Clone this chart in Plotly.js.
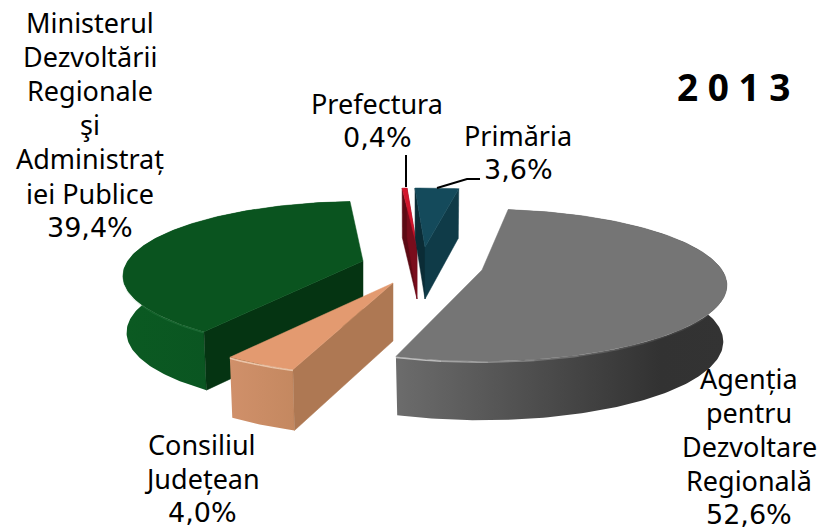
<!DOCTYPE html>
<html><head><meta charset="utf-8">
<script src="https://cdn.plot.ly/plotly-3.0.0.min.js"></script>
<style>html,body{margin:0;padding:0;background:#fff}#c{width:820px;height:531px}</style>
</head><body><div id="c"></div>
<script>
// ---- data ----
const categories = ["Agenția pentru Dezvoltare Regională","Consiliul Județean","Ministerul Dezvoltării Regionale și Administrației Publice","Prefectura","Primăria"];
const values = [52.6,4.0,39.4,0.4,3.6];
const labelLines = [
  ["Agenția","pentru","Dezvoltare","Regională"],
  ["Consiliul","Județean"],
  ["Ministerul","Dezvoltării","Regionale","şi","Administraț","iei Publice"],
  ["Prefectura"],
  ["Primăria"]
];
const chartTitle = "2 0 1 3";

// ---- projection and look of the 3-D pie ----
const START=10, RX=240, RY=73, K=0.2, KD=0.05, BOTTOM=0.985;
const apexX=[482,393,363,417,425], apexY=[270,283,261,247,247];
const scale=[1,1.02,0.98,0.97,0.97], depth=[56,58,56,52,52], turn=[-2.5,0,0.6,0,0];
const styles=[
 {top:"#757575",wall:[[0,"#6c6c6c"],[0.55,"#444444"],[0.8,"#323232"],[1,"#333333"]],cutA:null,cutB:null,rim:"255,255,255"},
 {top:"#e39a70",wall:[[0,"#d0906a"],[1,"#c48860"]],cutA:"#ae7853",cutB:null,rim:"255,235,215"},
 {top:"#0a541f",wall:[[0,"#0b5a22"],[0.5,"#0a5421"],[1,"#084a1a"]],cutA:"#053412",cutB:null,rim:"70,150,95"},
 {top:"#d2152c",wall:null,cutA:"#5c0a14",cutB:"#7a0d1c",rim:null},
 {top:"#144a5b",wall:null,cutA:"#0b2c36",cutB:"#0f3b48",rim:null}
];
const drawOrder=[2,3,4,0,1];
const labelPos={0:[749,378],1:[202,444],2:[90,22],3:[377,103],4:[518,135]};
const LINE=34.2;
const leaders=[{x:[406,406],y:[155,187]},{x:[437,467,480],y:[188,179,179]}];

function pt(i,deg,low){
  const t=deg*Math.PI/180, c=Math.cos(t), s=scale[i], f=1/(1+K*c);
  let x=RX*Math.sin(t)*f*s, y=-RY*c*f*s;
  if(low){x*=BOTTOM; y+=depth[i]/(1+KD*c);}
  return [apexX[i]+x, apexY[i]+y];
}
function arc(i,a,b,low){
  const n=Math.max(2,Math.ceil(Math.abs(b-a))),o=[];
  for(let j=0;j<=n;j++)o.push(pt(i,a+(b-a)*j/n,low));
  return o;
}
function poly(points,extra){
  const p=points.concat([points[0]]);
  return Object.assign({type:"scatter",mode:"lines",x:p.map(q=>q[0]),y:p.map(q=>q[1]),
    fill:"toself",line:{width:0.5},hoverinfo:"skip",showlegend:false},extra);
}
const total=values.reduce((a,b)=>a+b,0);
let cum=START; const ranges=values.map((v,i)=>{const a=cum;cum+=v/total*360;return [a+turn[i],cum+turn[i]];});

const traces=[];
drawOrder.forEach(i=>{
  const [a,b]=ranges[i], st=styles[i];
  const ap=[apexX[i],apexY[i]], apLow=[apexX[i],apexY[i]+depth[i]];
  if(st.wall){
    traces.push(poly(arc(i,a,b,false).concat(arc(i,b,a,true)),{
      fillgradient:{type:"horizontal",colorscale:st.wall},line:{width:0,color:"rgba(0,0,0,0)"}}));
  }
  if(st.cutA) traces.push(poly([ap,pt(i,a,false),pt(i,a,true),apLow],{fillcolor:st.cutA,line:{width:0.5,color:st.cutA}}));
  if(st.cutB) traces.push(poly([ap,pt(i,b,false),pt(i,b,true),apLow],{fillcolor:st.cutB,line:{width:0.5,color:st.cutB}}));
  traces.push(poly([ap].concat(arc(i,a,b,false)),{fillcolor:st.top,line:{width:0.5,color:st.top}}));
  if(st.rim){
    // soft highlight along the front rim; brightest next to the front cut, fading outward
    const far=(i===0)?b-90:(i===2?Math.min(b,272):b), near=(i===0)?b:a, n=10;
    for(let j=0;j<n;j++){
      const u=j/(n-1);
      const s0=near+(far-near)*j/n, s1=near+(far-near)*(j+1)/n;
      const seg=arc(i,s0,s1,false);
      const alpha=(i===0?0.06+0.5*Math.pow(1-u,3):(i===2?0.04+0.25*Math.pow(1-u,1.5):0.6));
      traces.push({type:"scatter",mode:"lines",x:seg.map(q=>q[0]),y:seg.map(q=>q[1]+1),
        line:{width:1.5,color:"rgba("+st.rim+","+alpha.toFixed(2)+")"},hoverinfo:"skip",showlegend:false});
    }
  }
});
leaders.forEach(l=>traces.push({type:"scatter",mode:"lines",x:l.x,y:l.y,line:{width:2,color:"#000"},hoverinfo:"skip",showlegend:false}));

const FONT="Noto Sans, sans-serif", NUMFONT="DejaVu Sans, sans-serif";
const annotations=[];
function addText(t,x,y,size,bold,family){
  annotations.push({text:bold?"<b>"+t+"</b>":t,x:x,y:y,xref:"x",yref:"y",showarrow:false,xanchor:"center",yanchor:"middle",
    font:{family:family,size:size,color:"#000"}});
}
categories.forEach((c,i)=>{
  labelLines[i].forEach((t,j)=>addText(t,labelPos[i][0],labelPos[i][1]+j*LINE,27,false,FONT));
  addText(values[i].toFixed(1).replace(".",",")+"%",labelPos[i][0],labelPos[i][1]+labelLines[i].length*LINE,27,false,NUMFONT);
});
addText(chartTitle,734,86,37,true,FONT);

Plotly.newPlot("c",traces,{
  width:820,height:531,margin:{l:0,r:0,t:0,b:0},paper_bgcolor:"#fff",plot_bgcolor:"#fff",showlegend:false,
  xaxis:{range:[0,820],visible:false,fixedrange:true},
  yaxis:{range:[531,0],visible:false,fixedrange:true},
  annotations:annotations
},{displayModeBar:false,staticPlot:true});
</script></body></html>
